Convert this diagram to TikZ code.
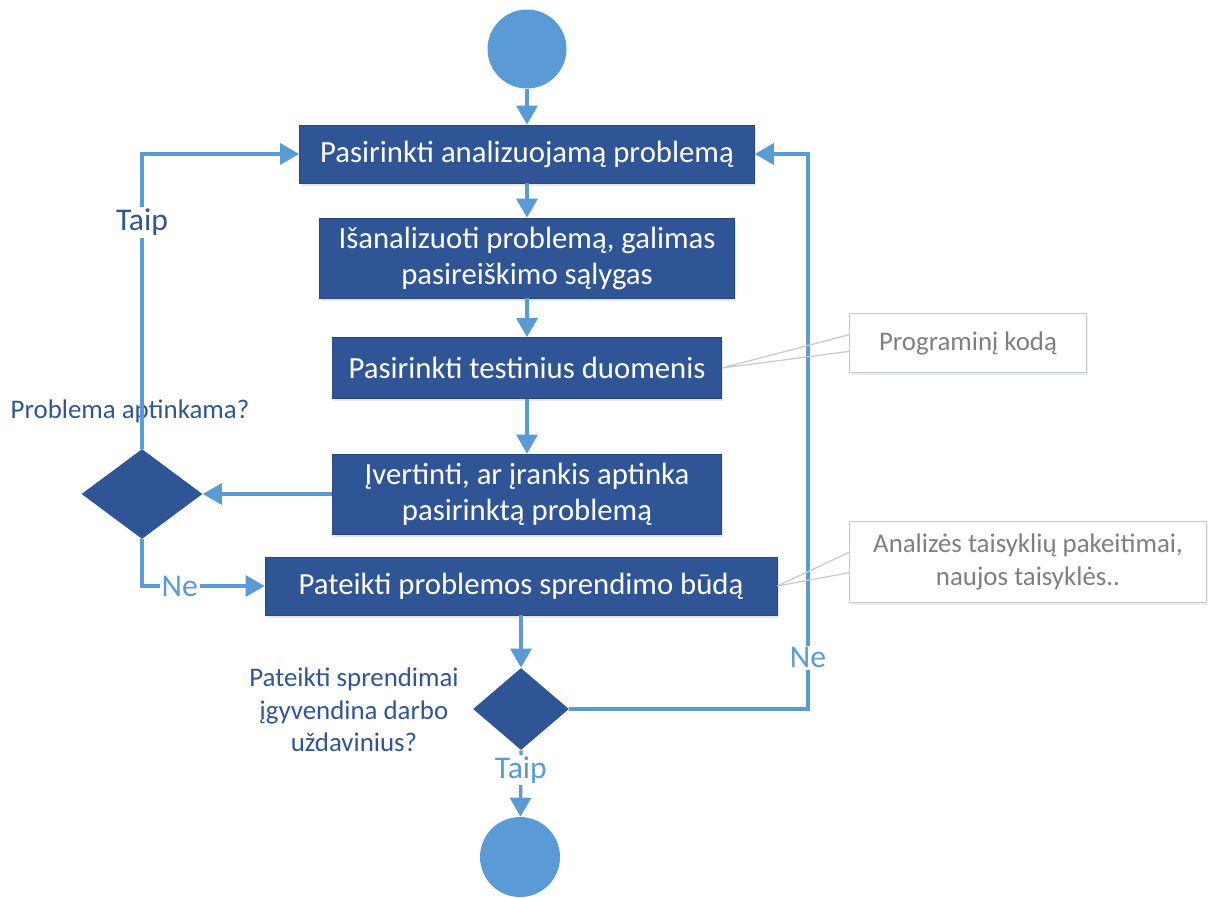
\documentclass[tikz,border=0pt]{standalone}
\usepackage{fontspec}
\setmainfont{Carlito}
\usetikzlibrary{shapes.geometric, arrows.meta, shadows, calc}
\definecolor{boxblue}{HTML}{2F5597}
\definecolor{lineblue}{HTML}{5B9BD5}
\definecolor{notegray}{HTML}{7F7F7F}
\definecolor{noteedge}{HTML}{C9C9C9}

\begin{document}
\begin{tikzpicture}[x=0.02cm, y=-0.02cm,
    act/.style={draw=boxblue!85!black, fill=boxblue, text=white, align=center,
      font=\fontsize{17.5}{20.5}\selectfont, inner sep=0pt,
      drop shadow={shadow xshift=1pt, shadow yshift=-1.5pt, opacity=0.2}},
    choice/.style={diamond, fill=boxblue, inner sep=0pt},
    endpoint/.style={circle, fill=lineblue, inner sep=0pt, minimum size=1.58cm},
    flow/.style={draw=lineblue, line width=1.9pt, -{Triangle[width=0.42cm,length=0.38cm]}},
    answer/.style={fill=white, inner sep=1pt, font=\fontsize{18}{21}\selectfont},
    question/.style={text=boxblue, align=center, font=\fontsize{15.3}{18.5}\selectfont},
    note/.style={draw=noteedge, fill=white, text=notegray, align=center,
      font=\fontsize{15.3}{18.5}\selectfont, inner sep=0pt,
      drop shadow={shadow xshift=1pt, shadow yshift=-1.5pt, opacity=0.15, fill=lineblue}},
    noteline/.style={draw=noteedge, line width=0.7pt}]
    \useasboundingbox (0,0) rectangle (1209,897);

    \node[endpoint] (start) at (527,49) {};
    \node[act, minimum width=9.1cm, minimum height=1.16cm] (pick) at (527,154) {Pasirinkti analizuojamą problemą};
    \node[act, minimum width=8.3cm, minimum height=1.6cm] (analyse) at (527,258) {Išanalizuoti problemą, galimas\\pasireiškimo sąlygas};
    \node[act, minimum width=7.78cm, minimum height=1.22cm] (data) at (527,368) {Pasirinkti testinius duomenis};
    \node[act, minimum width=7.78cm, minimum height=1.6cm] (assess) at (527,494) {Įvertinti, ar įrankis aptinka\\pasirinktą problemą};
    \node[choice, minimum width=2.42cm, minimum height=1.8cm] (found) at (142,494) {};
    \node[act, minimum width=10.24cm, minimum height=1.16cm] (solve) at (521,586) {Pateikti problemos sprendimo būdą};
    \node[choice, minimum width=1.92cm, minimum height=1.64cm] (goals) at (521,709) {};
    \node[endpoint, minimum size=1.6cm] (stop) at (520,857) {};
    \coordinate (loop) at (808,154);

    \node[question] (qfound) at (130,411) {Problema aptinkama?};
    \node[question] (qgoals) at (354,710) {Pateikti sprendimai\\įgyvendina darbo\\uždavinius?};

    \node[note, minimum width=4.74cm, minimum height=1.18cm] (code) at (968,343) {Programinį kodą};
    \node[note, minimum width=7.14cm, minimum height=1.62cm] (rules) at (1028,562) {Analizės taisyklių pakeitimai,\\naujos taisyklės..};

    \draw[flow] (start) -- (pick);
    \draw[flow] (pick) -- (analyse);
    \draw[flow] (analyse) -- (data);
    \draw[flow] (data) -- (assess);
    \draw[flow] (assess) -- (found);
    \draw[flow] (found.north) |- (pick.west) node[answer, text=boxblue, pos=0.384] {Taip};
    \draw[flow] (found.south) |- (solve.west) node[answer, text=lineblue, pos=0.654] {Ne};
    \draw[flow] (solve) -- (goals);
    \draw[flow] (goals.east) -| (loop) node[answer, text=lineblue, pos=0.546] {Ne} -- (pick.east);
    \draw[flow] (goals.south) -- (stop) node[answer, text=lineblue, pos=0.3] {Taip};

    \draw[noteline] (data.east) -- ($(code.north west)!0.36!(code.south west)$)
      (data.east) -- ($(code.north west)!0.64!(code.south west)$);
    \draw[noteline] (solve.east) -- ($(rules.north west)!0.38!(rules.south west)$)
      (solve.east) -- ($(rules.north west)!0.63!(rules.south west)$);
  \end{tikzpicture}
\end{document}
